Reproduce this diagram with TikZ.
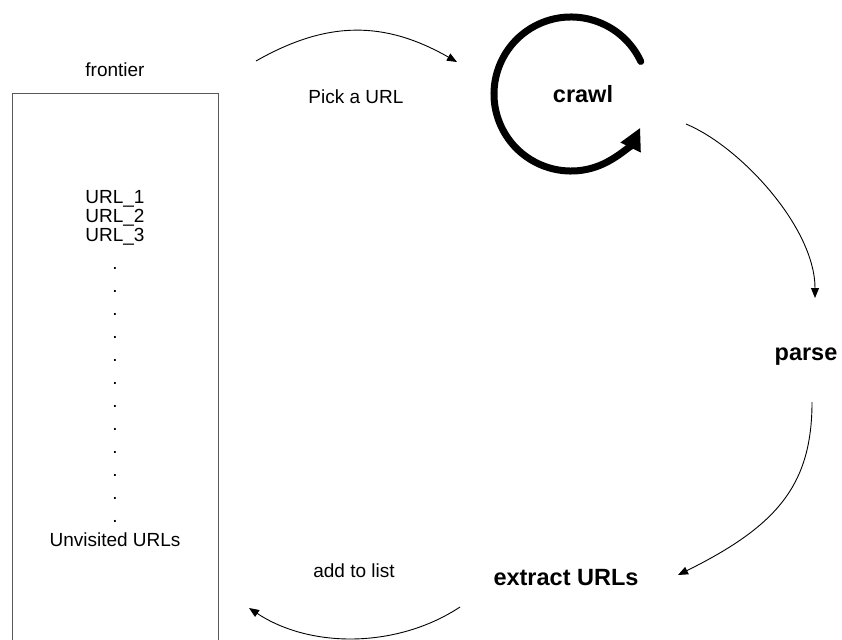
\documentclass[tikz,border=0pt]{standalone}
\usepackage{fontspec}
\setmainfont{Liberation Sans}
\usetikzlibrary{arrows.meta}
\begin{document}
\begin{tikzpicture}[x=1pt,y=-1pt,
  lbl/.style={font=\fontsize{19}{19}\selectfont, inner sep=0pt, anchor=base},
  stage/.style={font=\fontsize{23.5}{23.5}\selectfont\bfseries, inner sep=0pt, anchor=base},
  flow/.style={line width=0.9pt, -{Triangle[length=10pt,width=8pt]}},
  listbox/.style={draw=black!65, line width=0.9pt, inner sep=0pt}]
\useasboundingbox (0,0) rectangle (842,639);
\clip (0,0) rectangle (842,639);

% the frontier list (open at the bottom)
\node[lbl] (frontier) at (115,77) {frontier};
\node[listbox, minimum width=206pt, minimum height=580pt, anchor=north west] (frontierbox) at (12,93) {};
\node[lbl] (url1) at (115,203) {URL\_1};
\node[lbl] (url2) at (115,222) {URL\_2};
\node[lbl] (url3) at (115,241) {URL\_3};
\foreach \k in {0,...,11}
  \node[lbl] (dot\k) at (115,{269.5+23*\k}) {.};
\node[lbl] (unvisited) at (115,546) {Unvisited URLs};

% stages of the crawl cycle
\node[stage] (crawl) at (583,103) {crawl};
\node[stage] (parse) at (806,360) {parse};
\node[stage] (extract) at (566,585) {extract URLs};

% step labels
\node[lbl] (pick) at (356,104) {Pick a URL};
\node[lbl] (add) at (354,577) {add to list};

% thick loop around crawl
\coordinate (loopc) at (571,94);
\draw[line width=7pt, line cap=round, -{Triangle[length=22pt,width=21pt]}]
  ([shift={(-25:77)}]loopc) arc[start angle=-25, end angle=-334, radius=77];

% thin connectors of the cycle
\coordinate (pickA) at (256,61);
\coordinate (pickB) at (457,62);
\draw[flow] (pickA) .. controls (328,20) and (385,21) .. (pickB);

\coordinate (crawlOut) at (686,124);
\coordinate (parseIn) at (815,298);
\draw[flow] (crawlOut) .. controls (741,147) and (815,228) .. (parseIn);

\coordinate (parseOut) at (812,402);
\coordinate (extractIn) at (678,575);
\draw[flow] (parseOut) .. controls (812,485) and (777,526) .. (extractIn);

\coordinate (extractOut) at (460,607);
\coordinate (listIn) at (249,608);
\draw[flow] (extractOut) .. controls (398,648) and (311,649) .. (listIn);
\end{tikzpicture}
\end{document}
